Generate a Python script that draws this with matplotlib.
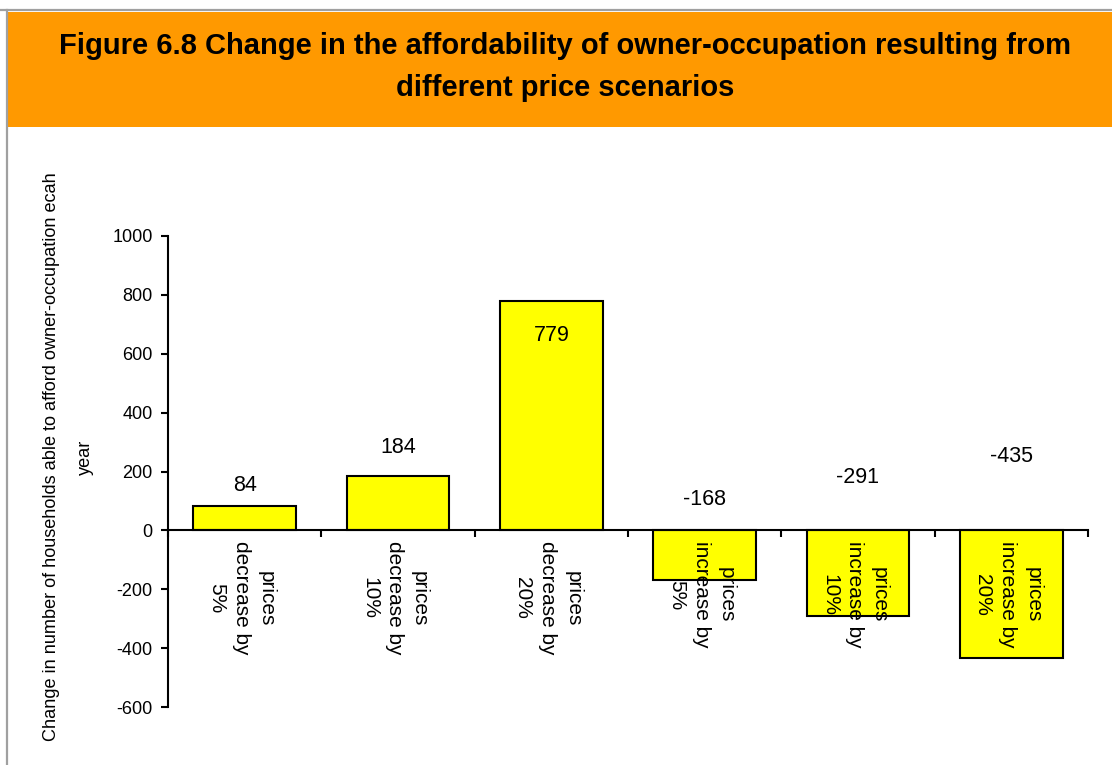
import matplotlib
matplotlib.use("Agg")
import matplotlib.pyplot as plt
from matplotlib.lines import Line2D
from matplotlib.patches import Rectangle
import numpy as np

plt.rcParams["font.family"] = ["Liberation Sans", "DejaVu Sans"]
plt.rcParams["axes.unicode_minus"] = False

categories = ["prices\ndecrease by\n5%", "prices\ndecrease by\n10%",
              "prices\ndecrease by\n20%", "prices\nincrease by\n5%",
              "prices\nincrease by\n10%", "prices\nincrease by\n20%"]
values = [84, 184, 779, -168, -291, -435]
# where the value labels sit (data units), as placed in the original
label_y = [153, 282, 662, 105, 180, 251]

title = ("Figure 6.8 Change in the affordability of owner-occupation resulting from\n"
         "different price scenarios")
ylabel = "Change in number of households able to afford owner-occupation ecah\nyear"

W, H = 1112, 765
fig = plt.figure(figsize=(W / 100, H / 100), dpi=100)

# banner and frame
fig.patches.append(Rectangle((8 / W, 1 - 127 / H), 1 - 8 / W, 115 / H,
                             transform=fig.transFigure, facecolor="#FF9900",
                             edgecolor="none", zorder=0))
fig.lines.append(Line2D([0, 1], [1 - 10 / H, 1 - 10 / H], transform=fig.transFigure,
                        color="#A0A0A0", lw=1.6))
fig.lines.append(Line2D([7 / W, 7 / W], [0, 1 - 10 / H], transform=fig.transFigure,
                        color="#A0A0A0", lw=1.6))
fig.text(0.508, 1 - 67 / H, title, ha="center", va="center", fontsize=21,
         fontweight="bold", linespacing=1.65)

ax = fig.add_axes([168 / W, 58 / H, 920 / W, 471 / H])
x = np.arange(len(values))
ax.bar(x, values, width=0.67, color="#FFFF00", edgecolor="black", lw=1.5, zorder=2)
for xi, v, ly in zip(x, values, label_y):
    ax.text(xi, ly, str(v), ha="center", va="center", fontsize=15.5, zorder=3)

# category labels hang below the zero line, reading top to bottom
for xi, cat in zip(x, categories):
    ax.annotate(cat, xy=(xi, 0), xytext=(-2.5, -8), textcoords="offset points",
                rotation=-90, ha="center", va="top", multialignment="center",
                fontsize=15, linespacing=1.4, zorder=4)

ax.set_xlim(-0.5, len(values) - 0.5)
ax.set_ylim(-600, 1000)
ax.set_yticks(np.arange(-600, 1001, 200))
ax.tick_params(axis="y", labelsize=13, width=1.5, length=5, pad=6)

ax.set_xticks(np.arange(-0.5, len(values), 1))
ax.set_xticklabels([])
ax.tick_params(axis="x", width=1.5, length=5)

for s in ("top", "right"):
    ax.spines[s].set_visible(False)
ax.spines["bottom"].set_position(("data", 0))
ax.spines["bottom"].set_linewidth(1.5)
ax.spines["left"].set_linewidth(1.5)

fig.text(0.0615, 0.4026, ylabel, rotation=90, ha="center", va="center",
         fontsize=13.1, multialignment="center", linespacing=2.3)

fig.savefig("out.png", dpi=100)
